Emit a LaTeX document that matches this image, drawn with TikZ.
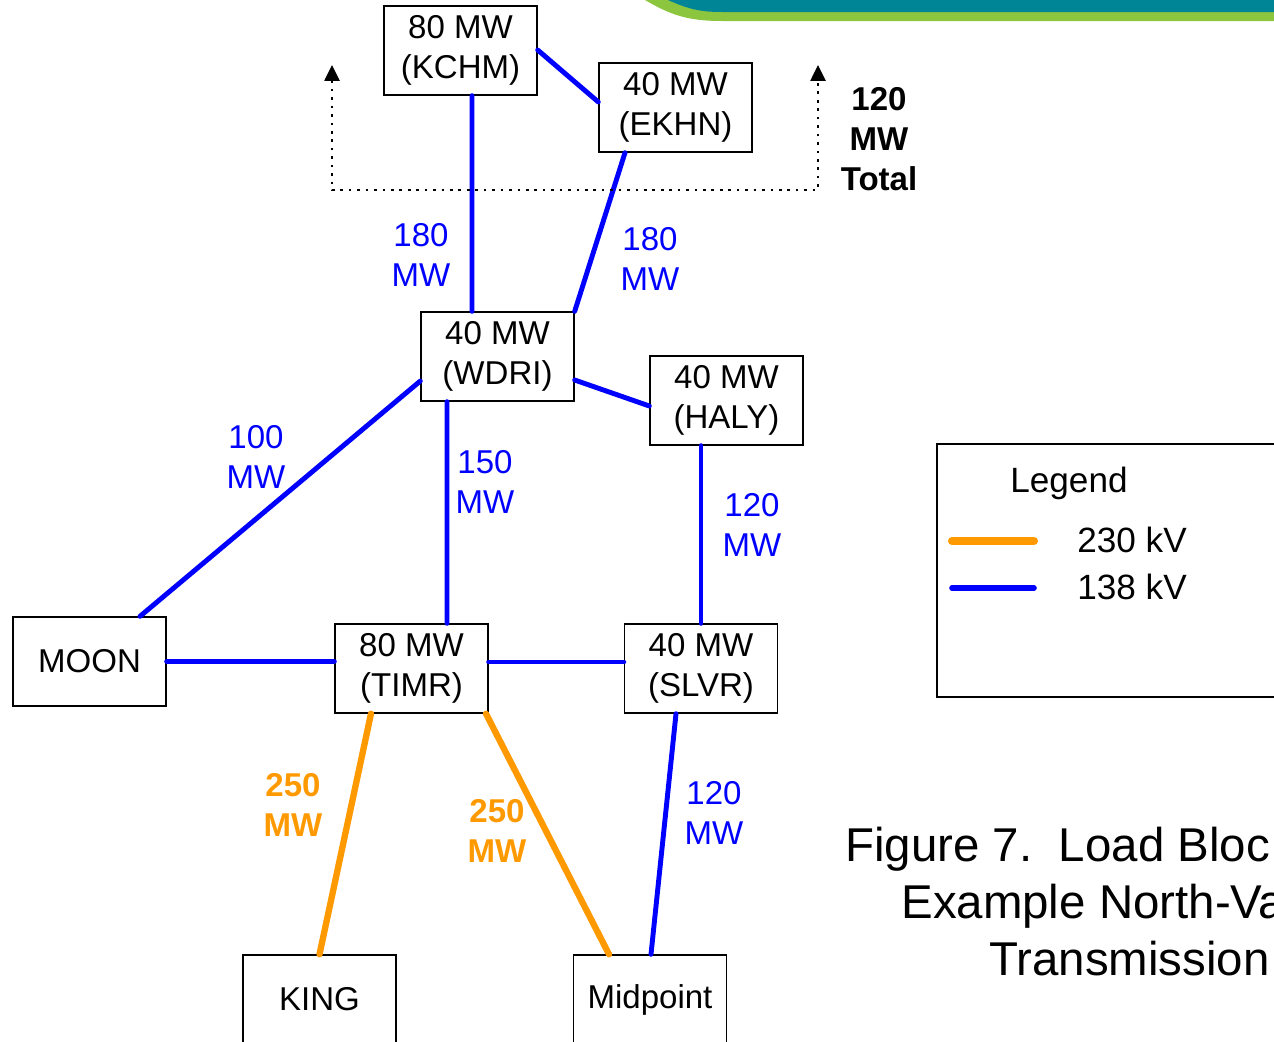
\documentclass[tikz,border=0pt]{standalone}
\usepackage{fontspec}
\setmainfont{Liberation Sans}
\usepackage{tikz}
\usetikzlibrary{arrows.meta, positioning, calc}
\definecolor{cLow}{RGB}{0,0,255}
\definecolor{cHigh}{RGB}{255,153,0}
\definecolor{cTeal}{RGB}{0,133,150}
\definecolor{cLime}{RGB}{140,198,63}
\newcommand{\netfont}{\fontsize{18.8}{22.7}\selectfont}
\newcommand{\legfont}{\fontsize{20}{24}\selectfont}
\newcommand{\capfont}{\fontsize{27}{32}\selectfont}
\tikzset{
	station/.style={rectangle, draw=black, line width=0.8pt, minimum width=3.06cm, minimum height=1.78cm, align=center, inner sep=0pt},
	kvlow/.style  ={cLow, line width=2.8pt, line cap=round},
	kvhigh/.style ={cHigh, line width=3.6pt, line cap=round},
	mwlow/.style  ={text=cLow, align=center, inner sep=0pt},
	mwhigh/.style ={text=cHigh, align=center, inner sep=0pt, font=\netfont\bfseries},
	% dotted marker for the northern total
	totarrow/.style={line width=1.5pt, dash pattern=on 1.5pt off 3.3pt, {Triangle[length=0.32cm,width=0.3cm]}-{Triangle[length=0.32cm,width=0.3cm]}},
}

\begin{document}
\begin{tikzpicture}[x=0.02cm, y=-0.02cm, font=\netfont]
	\useasboundingbox (0,0) rectangle (1274,1041);
	\clip (0,0) rectangle (1274,1041);
	% header band
	\fill[cLime] (645,0) .. controls (672,16) and (690,21) .. (722,21) -- (1274,21) -- (1274,0) -- cycle;
	\fill[cTeal] (668,0) .. controls (688,9) and (700,12) .. (722,12) -- (1274,12) -- (1274,0) -- cycle;
	% stations
	\node[station] (kchm) at (460.5,50.5) {80 MW\\(KCHM)};
	\node[station] (ekhn) at (675.5,107.5) {40 MW\\(EKHN)};
	\node[station] (wdri) at (497.5,356.5) {40 MW\\(WDRI)};
	\node[station] (haly) at (726.5,400.5) {40 MW\\(HALY)};
	\node[station] (moon) at (89.5,661.5) {MOON};
	\node[station] (timr) at (411.5,668.5) {80 MW\\(TIMR)};
	\node[station] (slvr) at (701,668.5) {40 MW\\(SLVR)};
	\node[station] (king) at (319.5,999.5) {KING};
	\node[station] (midp) at (650,999.5) {Midpoint};
	% 138 kV lines
	\draw[kvlow] ($(kchm.east)+(0,-0.5)$) -- ($(ekhn.west)+(0,-5.5)$);
	\draw[kvlow] ($(kchm.south)+(11.5,0)$) -- ($(wdri.north)+(-25.5,0)$);
	\draw[kvlow] ($(ekhn.south)+(-50.5,0)$) -- (wdri.north east);
	\draw[kvlow] ($(wdri.east)+(0,23.5)$) -- ($(haly.west)+(0,5.5)$);
	\draw[kvlow] ($(wdri.west)+(0,24.5)$) -- ($(moon.north)+(50.5,0)$);
	\draw[kvlow] ($(wdri.south)+(-50.5,0)$) -- ($(timr.north)+(35.5,0)$);
	\draw[kvlow] ($(haly.south)+(-25.5,0)$) -- (slvr.north);
	\draw[kvlow] (moon.east) -- (moon.east -| timr.west);
	\draw[kvlow] ($(timr.east)+(0,-6.5)$) -- ($(slvr.west)+(0,-6.5)$);
	\draw[kvlow] ($(slvr.south)+(-25,0)$) -- ($(midp.north)+(1,0)$);
	% 230 kV lines
	\draw[kvhigh] ($(timr.south)+(-40.5,0)$) -- (king.north);
	\draw[kvhigh] ($(timr.south)+(74.5,0)$) -- ($(midp.north)+(-41,0)$);
	% line ratings
	\node[mwlow] (r1) at (421,255) {180\\MW};
	\node[mwlow] (r2) at (650,259) {180\\MW};
	\node[mwlow] (r3) at (256,457) {100\\MW};
	\node[mwlow] (r4) at (485,482) {150\\MW};
	\node[mwlow] (r5) at (752,525) {120\\MW};
	\node[mwlow] (r6) at (714,813) {120\\MW};
	\node[mwhigh] (r7) at (293,805) {250\\MW};
	\node[mwhigh] (r8) at (497,831) {250\\MW};
	% northern total
	\coordinate (totl) at (332,65);
	\coordinate (totr) at (818,65);
	\draw[totarrow] (totl) -- (332,190) -- (818,190) -- (totr);
	\node[align=center, inner sep=0pt, font=\netfont\bfseries] (tot) at (879,139) {120\\MW\\Total};
	% legend
	\draw[line width=1pt] (937,444) rectangle (1290,697);
	\node[font=\legfont, anchor=base] (leg) at (1069,492) {Legend};
	\draw[kvhigh, line width=4.6pt] (952,541) -- (1034,541);
	\draw[kvlow, line width=3.2pt] (952,588) -- (1034,588);
	\node[font=\legfont, anchor=base west, inner sep=0pt] (l230) at (1077,552) {230 kV};
	\node[font=\legfont, anchor=base west, inner sep=0pt] (l138) at (1077,599) {138 kV};
	% caption
	\node[font=\capfont, anchor=base west, inner sep=0pt] (cap1) at (845,861) {Figure 7.\ \ Load Bloc};
	\node[font=\capfont, anchor=base west, inner sep=0pt] (cap2) at (901,918) {Example North-Va};
	\node[font=\capfont, anchor=base west, inner sep=0pt] (cap3) at (989,975) {Transmission};
\end{tikzpicture}
\end{document}
